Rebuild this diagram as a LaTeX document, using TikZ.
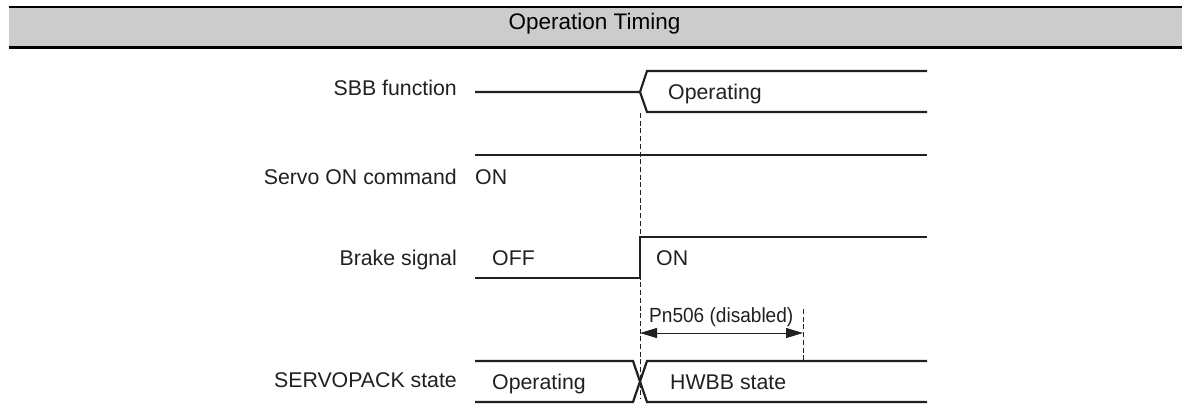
\documentclass[tikz,border=0pt]{standalone}
\usepackage{fontspec}
\setmainfont{Liberation Sans}
\usepackage{tikz}
\usetikzlibrary{arrows.meta,positioning,calc}
\definecolor{hdrGray}{HTML}{CCCCCC}
\definecolor{sigInk}{HTML}{231F20}
\tikzset{
    sigLine/.style={line width=2.2pt, draw=sigInk, line join=miter},
    sigLabel/.style={anchor=base east, inner sep=0pt, text=sigInk, font=\fontsize{21.3}{25}\selectfont},
    sigText/.style={anchor=base west, inner sep=0pt, text=sigInk, font=\fontsize{21.3}{25}\selectfont},
    guide/.style={line width=0.9pt, draw=sigInk, dash pattern=on 5pt off 2.7pt},
    dimArrow/.style={{Triangle[length=17pt,width=10pt]}-{Triangle[length=17pt,width=10pt]}, line width=1pt, draw=sigInk}
}

\begin{document}
\begin{tikzpicture}[x=1pt, y=-1pt]
\useasboundingbox (0,0) rectangle (1187,418);

% Title bar
\fill[hdrGray] (9,7) rectangle (1182,47);
\draw[line width=2.5pt] (9,7) -- (1182,7);
\draw[line width=3pt] (9,47) -- (1182,47);
\node[anchor=base, inner sep=0pt, font=\fontsize{22.5}{26}\selectfont] (title) at (594.5,29.7) {Operation Timing};

% Signal names
\foreach \y/\name [count=\k] in {95.7/SBB function, 184/Servo ON command, 265.7/Brake signal, 387.3/SERVOPACK state} {
    \node[sigLabel] (lbl\k) at (457,\y) {\name};
}

% Edge time
\coordinate (tTop) at (640,113);
\coordinate (tBot) at (640,398);

% SBB function
\draw[sigLine] (475,92) -- (640,92) -- (647,71) -- (927,71);
\draw[sigLine] (640,92) -- (647,112) -- (927,112);
\node[sigText] (sbbOp) at (668,99.5) {Operating};

% Servo ON command
\draw[sigLine] (475,155) -- (927,155);
\node[sigText] (svOn) at (475,184.5) {ON};

% Brake signal
\draw[sigLine] (475,278) -- (640,278) -- (640,237) -- (927,237);
\node[sigText] (brOff) at (492,265.7) {OFF};
\node[sigText] (brOn) at (656,265.7) {ON};

% SERVOPACK state
\draw[sigLine] (475,361) -- (633,361) -- (647,402) -- (927,402);
\draw[sigLine] (475,402) -- (633,402) -- (647,361) -- (927,361);
\node[sigText] (spOp) at (492,389) {Operating};
\node[sigText] (spHw) at (670,389) {HWBB state};

% Pn506 interval
\coordinate (pnEnd) at (803,309);
\coordinate (pnFoot) at (803,360);
\draw[guide] (tTop) -- (tBot);
\draw[guide] (pnEnd) -- (pnFoot);
\coordinate (arrL) at (tTop |- 0,333);
\coordinate (arrR) at (pnEnd |- 0,333);
\draw[dimArrow] (arrL) -- (arrR);
\node[anchor=base west, inner sep=0pt, text=sigInk, font=\fontsize{20.5}{24}\selectfont] (pnLbl) at (649,322.7) {\scalebox{0.93}[1]{Pn506 (disabled)}};
\end{tikzpicture}
\end{document}
